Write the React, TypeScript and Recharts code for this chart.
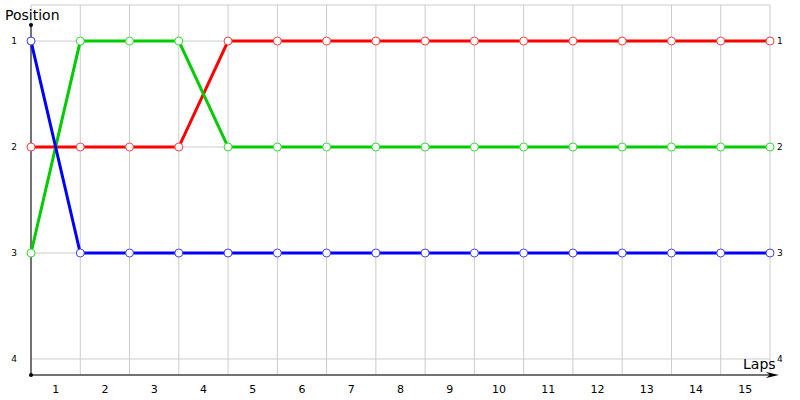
import React from 'react';
import {
  LineChart,
  Line,
  XAxis,
  YAxis,
  CartesianGrid,
  ReferenceLine,
  ReferenceDot
} from 'recharts';

const laps = [0, 1, 2, 3, 4, 5, 6, 7, 8, 9, 10, 11, 12, 13, 14, 15];
const redPos = [2, 2, 2, 2, 1, 1, 1, 1, 1, 1, 1, 1, 1, 1, 1, 1];
const greenPos = [3, 1, 1, 1, 2, 2, 2, 2, 2, 2, 2, 2, 2, 2, 2, 2];
const bluePos = [1, 3, 3, 3, 3, 3, 3, 3, 3, 3, 3, 3, 3, 3, 3, 3];
const positions = [1, 2, 3, 4];
const lapLabels = laps.slice(1);

const data = laps.map((lap, i) => ({
  lap,
  red: redPos[i],
  green: greenPos[i],
  blue: bluePos[i]
}));

const font = '"DejaVu Sans", Verdana, sans-serif';
const yDomain: [number, number] = [0.66, 4.151];

const dot = (color: string) => ({ r: 4, fill: '#fff', stroke: color, strokeWidth: 1 });

const Arrow = (props: any) => {
  const { cx, cy } = props;
  return (
    <polygon
      points={`${cx},${cy} ${cx - 13},${cy - 3} ${cx - 9},${cy} ${cx - 13},${cy + 3}`}
      fill="#000"
    />
  );
};

export default function App() {
  return (
    <div style={{ position: 'absolute', left: 0, top: 0, width: 800, height: 400, background: '#fff' }}>
      <LineChart width={800} height={400} data={data} margin={{ top: 5, right: 0, left: 0, bottom: 0 }}>
        <CartesianGrid xAxisId={0} yAxisId="left" stroke="#cccccc" strokeWidth={1} />
        <XAxis xAxisId={0} dataKey="lap" type="number" domain={[0, 15]} ticks={laps} height={0} hide />
        <XAxis
          xAxisId="labels"
          dataKey="lap"
          type="number"
          domain={[0, 15]}
          ticks={lapLabels.map((l) => l - 0.5)}
          tickFormatter={(v: number) => String(v + 0.5)}
          axisLine={false}
          tickLine={false}
          tickSize={0}
          tickMargin={10}
          height={25}
          interval={0}
          tick={{ fontSize: 11, fill: '#000', fontFamily: font }}
        />
        <YAxis
          yAxisId="left"
          type="number"
          domain={yDomain}
          allowDataOverflow
          reversed
          ticks={positions}
          axisLine={false}
          tickLine={false}
          tickSize={0}
          tickMargin={14}
          width={31}
          interval={0}
          tick={{ fontSize: 9, fill: '#000', fontFamily: font }}
        />
        <YAxis
          yAxisId="right"
          orientation="right"
          type="number"
          domain={yDomain}
          allowDataOverflow
          reversed
          ticks={positions}
          axisLine={false}
          tickLine={false}
          tickSize={0}
          tickMargin={7}
          width={30}
          interval={0}
          tick={{ fontSize: 9, fill: '#000', fontFamily: font, textAnchor: 'start' }}
        />
        <ReferenceLine
          yAxisId="left"
          segment={[{ x: 0, y: 0.849 }, { x: 0, y: 4.151 }]}
          stroke="#000"
          strokeWidth={1}
          ifOverflow="visible"
        />
        <ReferenceLine
          yAxisId="left"
          segment={[{ x: 0, y: 4.151 }, { x: 15.1, y: 4.151 }]}
          stroke="#000"
          strokeWidth={1}
          ifOverflow="visible"
        />
        <ReferenceDot yAxisId="left" x={0} y={0.849} r={2} fill="#000" stroke="none" ifOverflow="visible" />
        <ReferenceDot yAxisId="left" x={0} y={4.151} r={2} fill="#000" stroke="none" ifOverflow="visible" />
        <ReferenceDot yAxisId="left" x={15.18} y={4.151} r={2} shape={Arrow} ifOverflow="visible" />
        <Line
          yAxisId="left"
          dataKey="red"
          stroke="#ff0000"
          strokeWidth={3}
          dot={dot('#ff4040')}
          activeDot={false}
          isAnimationActive={false}
        />
        <Line
          yAxisId="left"
          dataKey="green"
          stroke="#00cc00"
          strokeWidth={3}
          dot={dot('#33dd33')}
          activeDot={false}
          isAnimationActive={false}
        />
        <Line
          yAxisId="left"
          dataKey="blue"
          stroke="#0000ff"
          strokeWidth={3}
          dot={dot('#4040ff')}
          activeDot={false}
          isAnimationActive={false}
        />
      </LineChart>
      <div style={{ position: 'absolute', left: 5, top: 8, fontFamily: font, fontSize: 14, lineHeight: '14px', color: '#000' }}>
        Position
      </div>
      <div style={{ position: 'absolute', left: 743, top: 357, fontFamily: font, fontSize: 14, lineHeight: '14px', color: '#000' }}>
        Laps
      </div>
    </div>
  );
}
